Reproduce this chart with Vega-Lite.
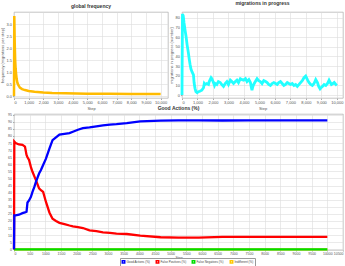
{
  "$schema": "https://vega.github.io/schema/vega-lite/v6.json",
  "padding": 0,
  "background": "white",
  "bounds": "flush",
  "spacing": 102,
  "config": {
    "font": "Liberation Sans",
    "view": {"stroke": "#aaaaaa", "strokeWidth": 0.7},
    "axis": {"labelFontSize": 4, "titleFontSize": 4, "labelColor": "#555555", "titleColor": "#555555", "gridColor": "#dcdcdc", "gridWidth": 0.6, "domain": false, "tickSize": 1.5, "tickColor": "#aaaaaa", "labelPadding": 1, "titlePadding": 1.5, "titleFontWeight": "normal", "labelOverlap": false},
    "title": {"fontSize": 5, "fontWeight": "bold", "offset": 2, "color": "#333333"},
    "legend": {"labelFontSize": 3, "labelColor": "#444444", "symbolSize": 6, "symbolType": "square", "strokeColor": "#999999", "fillColor": "white", "padding": 1.5, "columnPadding": 2, "labelOffset": 1, "direction": "horizontal", "title": null}
  },
  "datasets": {
    "freq": [
      {"step": 0, "frequency": 0}, {"step": 20, "frequency": 3.33}, {"step": 50, "frequency": 2.2}, {"step": 80, "frequency": 1.5},
      {"step": 110, "frequency": 1.15}, {"step": 140, "frequency": 0.95}, {"step": 180, "frequency": 0.72}, {"step": 230, "frequency": 0.55},
      {"step": 300, "frequency": 0.45}, {"step": 400, "frequency": 0.35}, {"step": 550, "frequency": 0.29}, {"step": 750, "frequency": 0.25},
      {"step": 1000, "frequency": 0.21}, {"step": 1400, "frequency": 0.18}, {"step": 2000, "frequency": 0.15}, {"step": 2600, "frequency": 0.13},
      {"step": 3500, "frequency": 0.115}, {"step": 5000, "frequency": 0.1}, {"step": 6500, "frequency": 0.095}, {"step": 8000, "frequency": 0.09},
      {"step": 10000, "frequency": 0.085}
    ],
    "migr": [
      {"step": 0, "m": 0}, {"step": 10, "m": 33}, {"step": 20, "m": 55}, {"step": 30, "m": 84}, {"step": 80, "m": 82}, {"step": 130, "m": 75},
      {"step": 200, "m": 67}, {"step": 260, "m": 61}, {"step": 330, "m": 52}, {"step": 410, "m": 44}, {"step": 470, "m": 37}, {"step": 520, "m": 32},
      {"step": 580, "m": 27}, {"step": 650, "m": 24}, {"step": 740, "m": 21}, {"step": 780, "m": 13}, {"step": 840, "m": 7}, {"step": 900, "m": 3.5},
      {"step": 980, "m": 2.5}, {"step": 1060, "m": 3.5}, {"step": 1150, "m": 4}, {"step": 1280, "m": 5}, {"step": 1390, "m": 7.6}, {"step": 1440, "m": 12},
      {"step": 1490, "m": 11}, {"step": 1600, "m": 12}, {"step": 1710, "m": 11}, {"step": 1760, "m": 14}, {"step": 1820, "m": 16}, {"step": 1880, "m": 18},
      {"step": 1930, "m": 17}, {"step": 2030, "m": 13}, {"step": 2100, "m": 10}, {"step": 2150, "m": 12}, {"step": 2250, "m": 11}, {"step": 2350, "m": 14},
      {"step": 2470, "m": 13}, {"step": 2560, "m": 11}, {"step": 2680, "m": 9}, {"step": 2790, "m": 12}, {"step": 2900, "m": 14}, {"step": 3000, "m": 11},
      {"step": 3120, "m": 15.5}, {"step": 3220, "m": 14}, {"step": 3330, "m": 12}, {"step": 3450, "m": 14}, {"step": 3550, "m": 15.5}, {"step": 3650, "m": 13},
      {"step": 3770, "m": 17}, {"step": 3880, "m": 16}, {"step": 3980, "m": 15.5}, {"step": 4100, "m": 17}, {"step": 4200, "m": 14}, {"step": 4320, "m": 16},
      {"step": 4420, "m": 13}, {"step": 4480, "m": 8}, {"step": 4520, "m": 5}, {"step": 4580, "m": 9}, {"step": 4630, "m": 11}, {"step": 4740, "m": 14},
      {"step": 4850, "m": 17}, {"step": 4950, "m": 15}, {"step": 5060, "m": 14}, {"step": 5170, "m": 12}, {"step": 5280, "m": 15}, {"step": 5400, "m": 14},
      {"step": 5500, "m": 13}, {"step": 5600, "m": 11}, {"step": 5710, "m": 10}, {"step": 5820, "m": 12}, {"step": 5930, "m": 13}, {"step": 6040, "m": 12},
      {"step": 6150, "m": 11}, {"step": 6250, "m": 13}, {"step": 6360, "m": 14}, {"step": 6470, "m": 12}, {"step": 6580, "m": 10}, {"step": 6690, "m": 11},
      {"step": 6800, "m": 13}, {"step": 6900, "m": 12}, {"step": 7010, "m": 11}, {"step": 7120, "m": 12}, {"step": 7230, "m": 10}, {"step": 7340, "m": 11},
      {"step": 7450, "m": 9}, {"step": 7560, "m": 11}, {"step": 7660, "m": 13}, {"step": 7770, "m": 15}, {"step": 7880, "m": 18}, {"step": 7990, "m": 19.6},
      {"step": 8100, "m": 16}, {"step": 8200, "m": 13}, {"step": 8310, "m": 11}, {"step": 8420, "m": 10}, {"step": 8530, "m": 12}, {"step": 8640, "m": 16},
      {"step": 8750, "m": 13}, {"step": 8830, "m": 9}, {"step": 8920, "m": 6.5}, {"step": 9000, "m": 8}, {"step": 9070, "m": 9}, {"step": 9180, "m": 11},
      {"step": 9290, "m": 10}, {"step": 9400, "m": 12}, {"step": 9500, "m": 15.5}, {"step": 9580, "m": 13}, {"step": 9650, "m": 11}, {"step": 9750, "m": 12},
      {"step": 9830, "m": 13}, {"step": 9940, "m": 11}, {"step": 10000, "m": 12}
    ],
    "actions": [
      {"step": 0, "Good Actions (%)": 0, "False Positives (%)": 0, "False Negatives (%)": 0, "Indifferent (%)": 0},
      {"step": 10, "Good Actions (%)": 24, "False Positives (%)": 76, "False Negatives (%)": 0, "Indifferent (%)": 0},
      {"step": 50, "Good Actions (%)": 24, "False Positives (%)": 75, "False Negatives (%)": 0, "Indifferent (%)": 0},
      {"step": 160, "Good Actions (%)": 24.4, "False Positives (%)": 74, "False Negatives (%)": 0, "Indifferent (%)": 0},
      {"step": 270, "Good Actions (%)": 25.5, "False Positives (%)": 73.7, "False Negatives (%)": 0, "Indifferent (%)": 0},
      {"step": 350, "Good Actions (%)": 26, "False Positives (%)": 72.5, "False Negatives (%)": 0, "Indifferent (%)": 0},
      {"step": 400, "Good Actions (%)": 26.5, "False Positives (%)": 66.6, "False Negatives (%)": 0, "Indifferent (%)": 0},
      {"step": 430, "Good Actions (%)": 33, "False Positives (%)": 65, "False Negatives (%)": 0, "Indifferent (%)": 0},
      {"step": 480, "Good Actions (%)": 34.5, "False Positives (%)": 63, "False Negatives (%)": 0, "Indifferent (%)": 0},
      {"step": 540, "Good Actions (%)": 37, "False Positives (%)": 58, "False Negatives (%)": 0, "Indifferent (%)": 0},
      {"step": 590, "Good Actions (%)": 40.5, "False Positives (%)": 54.7, "False Negatives (%)": 0, "Indifferent (%)": 0},
      {"step": 650, "Good Actions (%)": 44, "False Positives (%)": 51.5, "False Negatives (%)": 0, "Indifferent (%)": 0},
      {"step": 700, "Good Actions (%)": 47.6, "False Positives (%)": 48.8, "False Negatives (%)": 0, "Indifferent (%)": 0},
      {"step": 800, "Good Actions (%)": 53.5, "False Positives (%)": 43, "False Negatives (%)": 0, "Indifferent (%)": 0},
      {"step": 860, "Good Actions (%)": 56, "False Positives (%)": 41.7, "False Negatives (%)": 0, "Indifferent (%)": 0},
      {"step": 930, "Good Actions (%)": 59.5, "False Positives (%)": 40.5, "False Negatives (%)": 0, "Indifferent (%)": 0},
      {"step": 1020, "Good Actions (%)": 64, "False Positives (%)": 33.4, "False Negatives (%)": 0, "Indifferent (%)": 0},
      {"step": 1130, "Good Actions (%)": 71, "False Positives (%)": 26, "False Negatives (%)": 0, "Indifferent (%)": 0},
      {"step": 1230, "Good Actions (%)": 77, "False Positives (%)": 21.6, "False Negatives (%)": 0, "Indifferent (%)": 0},
      {"step": 1340, "Good Actions (%)": 79, "False Positives (%)": 20, "False Negatives (%)": 0, "Indifferent (%)": 0},
      {"step": 1450, "Good Actions (%)": 81, "False Positives (%)": 18.7, "False Negatives (%)": 0, "Indifferent (%)": 0},
      {"step": 1610, "Good Actions (%)": 81.5, "False Positives (%)": 17.8, "False Negatives (%)": 0, "Indifferent (%)": 0},
      {"step": 1770, "Good Actions (%)": 82, "False Positives (%)": 16.8, "False Negatives (%)": 0, "Indifferent (%)": 0},
      {"step": 1880, "Good Actions (%)": 83, "False Positives (%)": 16.2, "False Negatives (%)": 0, "Indifferent (%)": 0},
      {"step": 2040, "Good Actions (%)": 84.4, "False Positives (%)": 15.6, "False Negatives (%)": 0, "Indifferent (%)": 0},
      {"step": 2200, "Good Actions (%)": 85.5, "False Positives (%)": 15, "False Negatives (%)": 0, "Indifferent (%)": 0},
      {"step": 2410, "Good Actions (%)": 86, "False Positives (%)": 13.3, "False Negatives (%)": 0, "Indifferent (%)": 0},
      {"step": 2630, "Good Actions (%)": 86.7, "False Positives (%)": 12.8, "False Negatives (%)": 0, "Indifferent (%)": 0},
      {"step": 2840, "Good Actions (%)": 87.4, "False Positives (%)": 12, "False Negatives (%)": 0, "Indifferent (%)": 0},
      {"step": 3060, "Good Actions (%)": 88, "False Positives (%)": 11.6, "False Negatives (%)": 0, "Indifferent (%)": 0},
      {"step": 3270, "Good Actions (%)": 88.3, "False Positives (%)": 11, "False Negatives (%)": 0, "Indifferent (%)": 0},
      {"step": 3600, "Good Actions (%)": 89, "False Positives (%)": 10.8, "False Negatives (%)": 0, "Indifferent (%)": 0},
      {"step": 4030, "Good Actions (%)": 90.3, "False Positives (%)": 9.7, "False Negatives (%)": 0, "Indifferent (%)": 0},
      {"step": 4680, "Good Actions (%)": 90.8, "False Positives (%)": 8.5, "False Negatives (%)": 0, "Indifferent (%)": 0},
      {"step": 5250, "Good Actions (%)": 91, "False Positives (%)": 8.3, "False Negatives (%)": 0, "Indifferent (%)": 0},
      {"step": 5900, "Good Actions (%)": 91, "False Positives (%)": 8.3, "False Negatives (%)": 0, "Indifferent (%)": 0},
      {"step": 6650, "Good Actions (%)": 90.9, "False Positives (%)": 8.8, "False Negatives (%)": 0, "Indifferent (%)": 0},
      {"step": 7500, "Good Actions (%)": 91, "False Positives (%)": 8.8, "False Negatives (%)": 0, "Indifferent (%)": 0},
      {"step": 8500, "Good Actions (%)": 91, "False Positives (%)": 8.8, "False Negatives (%)": 0, "Indifferent (%)": 0},
      {"step": 9500, "Good Actions (%)": 91, "False Positives (%)": 8.8, "False Negatives (%)": 0, "Indifferent (%)": 0},
      {"step": 10000, "Good Actions (%)": 91, "False Positives (%)": 8.8, "False Negatives (%)": 0, "Indifferent (%)": 0}
    ]
  },
  "vconcat": [
    {
      "bounds": "flush",
      "spacing": 14,
      "hconcat": [
        {
          "title": "global frequency",
          "width": 154,
          "height": 86,
          "data": {"name": "freq"},
          "mark": {"type": "line", "color": "#ffbb00", "strokeWidth": 2.5},
          "encoding": {
            "x": {"field": "step", "type": "quantitative", "title": "Step", "scale": {"domain": [0, 10500], "nice": false}, "axis": {"values": [0, 1000, 2000, 3000, 4000, 5000, 6000, 7000, 8000, 9000, 10000], "format": ",d"}},
            "y": {"field": "frequency", "type": "quantitative", "title": "frequency (migrations per step)", "scale": {"domain": [-0.08, 3.5], "nice": false, "zero": false}, "axis": {"values": [0, 0.5, 1, 1.5, 2, 2.5, 3], "format": ".1f"}}
          }
        },
        {
          "title": "migrations in progress",
          "width": 161,
          "height": 86,
          "data": {"name": "migr"},
          "mark": {"type": "line", "color": "#22ffff", "strokeWidth": 2.8},
          "encoding": {
            "x": {"field": "step", "type": "quantitative", "title": "Step", "scale": {"domain": [0, 10400], "nice": false}, "axis": {"values": [0, 1000, 2000, 3000, 4000, 5000, 6000, 7000, 8000, 9000, 10000], "format": ",d"}},
            "y": {"field": "m", "type": "quantitative", "title": "migrations in progress (number)", "scale": {"domain": [-3, 86], "nice": false, "zero": false}, "axis": {"values": [0, 10, 20, 30, 40, 50, 60, 70, 80]}}
          }
        }
      ]
    },
    {
      "title": "Good Actions (%)",
      "width": 329,
      "height": 136,
      "data": {"name": "actions"},
      "transform": [
        {"fold": ["Indifferent (%)", "False Negatives (%)", "False Positives (%)", "Good Actions (%)"], "as": ["series", "value"]}
      ],
      "mark": {"type": "line", "strokeWidth": 2.3},
      "encoding": {
        "x": {"field": "step", "type": "quantitative", "title": "Step", "scale": {"domain": [0, 10500], "nice": false}, "axis": {"values": [0, 500, 1000, 1500, 2000, 2500, 3000, 3500, 4000, 4500, 5000, 5500, 6000, 6500, 7000, 7500, 8000, 8500, 9000, 9500, 10000, 10500], "format": "d", "labelFontSize": 3.5, "titleFontSize": 3.5, "labelPadding": 0.5, "tickSize": 1, "titlePadding": 0.5}},
        "y": {"field": "value", "type": "quantitative", "title": null, "scale": {"domain": [-0.5, 95.5], "nice": false, "zero": false}, "axis": {"values": [0, 5, 10, 15, 20, 25, 30, 35, 40, 45, 50, 55, 60, 65, 70, 75, 80, 85, 90, 95], "labelFontSize": 3.5}},
        "color": {"field": "series", "type": "nominal", "scale": {"domain": ["Good Actions (%)", "False Positives (%)", "False Negatives (%)", "Indifferent (%)"], "range": ["#0000ff", "#ff0000", "#00dd00", "#ffc800"]}, "legend": {"orient": "none", "legendX": 106, "legendY": 246}},
        "order": {"field": "step", "type": "quantitative"}
      }
    }
  ]
}
